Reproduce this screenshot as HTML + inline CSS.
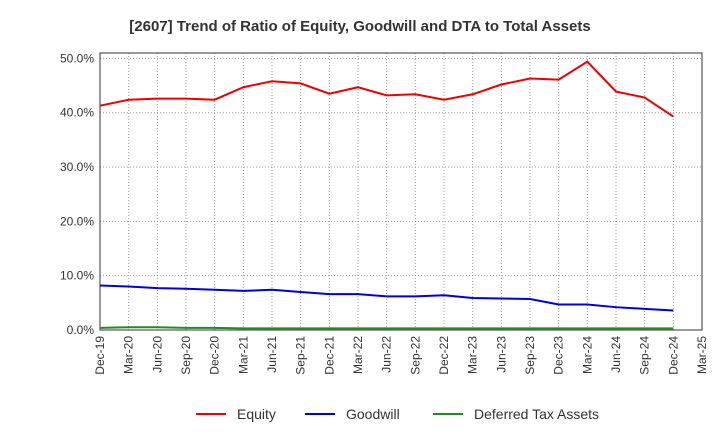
<!DOCTYPE html>
<html><head><meta charset="utf-8"><style>
body{margin:0;background:#fff;font-family:"Liberation Sans",sans-serif;}
</style></head><body>
<svg width="720" height="440" id="c" xmlns="http://www.w3.org/2000/svg" font-family="Liberation Sans, sans-serif">
<text x="360" y="31" text-anchor="middle" font-size="15" font-weight="bold" fill="#333">[2607]  Trend of Ratio of Equity, Goodwill and DTA to Total Assets</text>
</svg>
<script>
const categories=["Dec-19","Mar-20","Jun-20","Sep-20","Dec-20","Mar-21","Jun-21","Sep-21","Dec-21","Mar-22","Jun-22","Sep-22","Dec-22","Mar-23","Jun-23","Sep-23","Dec-23","Mar-24","Jun-24","Sep-24","Dec-24","Mar-25"];
const equity=[41.3,42.4,42.6,42.6,42.4,44.7,45.8,45.4,43.5,44.7,43.2,43.4,42.4,43.4,45.2,46.3,46.1,49.4,43.9,42.8,39.3];
const goodwill=[8.2,8.0,7.7,7.6,7.4,7.2,7.4,7.0,6.6,6.6,6.2,6.2,6.4,5.9,5.8,5.7,4.7,4.7,4.2,3.9,3.6];
const dta=[0.4,0.5,0.5,0.4,0.4,0.3,0.3,0.3,0.3,0.3,0.3,0.3,0.3,0.3,0.3,0.3,0.3,0.3,0.3,0.3,0.3];
const yTicks=[0,10,20,30,40,50];
const yTickLabels=["0.0%","10.0%","20.0%","30.0%","40.0%","50.0%"];
const NS="http://www.w3.org/2000/svg",svg=document.getElementById('c');
const L=100,R=702,T=53,B=330,yMax=51;
const xs=i=>L+i*(R-L)/(categories.length-1);
const ys=v=>B-v/yMax*(B-T);
function mk(t,a,p){const e=document.createElementNS(NS,t);for(const k in a)e.setAttribute(k,a[k]);(p||svg).appendChild(e);return e;}
yTicks.forEach((v,i)=>{
 const g=mk('line',{x1:L,x2:R,y1:ys(v),y2:ys(v),stroke:'#999','stroke-dasharray':'1,2'});
 
 
 const t=mk('text',{x:L-6,y:ys(v)+4,'text-anchor':'end','font-size':12,fill:'#333'});
 t.textContent=yTickLabels[i];
 
 
});
categories.forEach((c,i)=>{
 const g=mk('line',{x1:xs(i),x2:xs(i),y1:T,y2:B,stroke:'#999','stroke-dasharray':'1,2'});
 
 
 const t=mk('text',{transform:`translate(${xs(i)+4},${B+6}) rotate(-90)`,'text-anchor':'end','font-size':12,fill:'#333'});
 t.textContent=c;
 
 
});
const fr=mk('rect',{x:L,y:T,width:R-L,height:B-T,fill:'none',stroke:'#333'});


[[equity,'#e00','equity-line'],[goodwill,'#00d','goodwill-line'],[dta,'#228b22','dta-line']].forEach(([d,col,n])=>{
 const p=mk('polyline',{points:d.map((v,i)=>xs(i)+','+ys(v)).join(' '),fill:'none',stroke:col,'stroke-width':2});
 
 
});
[['Equity','#e00',196],['Goodwill','#00d',305],['Deferred Tax Assets','#228b22',433]].forEach(([n,col,x])=>{
 const g=mk('g',{});
 
 
 mk('line',{x1:x,x2:x+30,y1:414,y2:414,stroke:col,'stroke-width':2},g);
 const t=mk('text',{x:x+41,y:419,'font-size':14,fill:'#333'},g);t.textContent=n;
});
</script>
</body></html>
